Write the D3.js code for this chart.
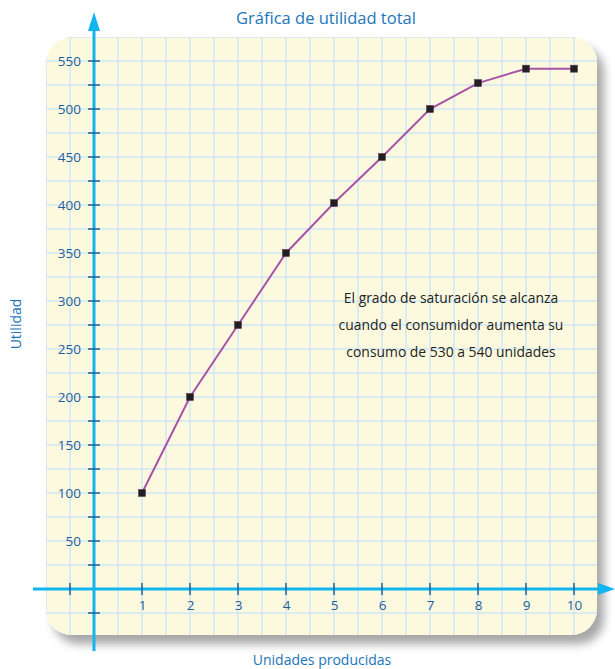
<!DOCTYPE html>
<html><head><meta charset="utf-8">
<script src="https://cdn.jsdelivr.net/npm/d3@7"></script>
<style>body{margin:0;background:#fff;}svg{display:block;font-family:"Open Sans",sans-serif;}</style>
</head><body>
<script>
const units = [1,2,3,4,5,6,7,8,9,10];
const utility = [100,200,275,350,402,450,500,527,542,542];
const yTickLabels = [50,100,150,200,250,300,350,400,450,500,550];
const yMinorTicks = [-25,25,75,125,175,225,275,325,375,425,475,525];
const xTickValues = [-0.5,1,2,3,4,5,6,7,8,9,10];
const title = "Gráfica de utilidad total";
const xTitle = "Unidades producidas";
const yTitle = "Utilidad";
const note = ["El grado de saturación se alcanza","cuando el consumidor aumenta su","consumo de 530 a 540 unidades"];

const W=615,H=669;
const svg=d3.select("body").append("svg").attr("width",W).attr("height",H);
const x=d3.scaleLinear().domain([0,10]).range([94,574]);
const y=d3.scaleLinear().domain([0,550]).range([589,61]);

const defs=svg.append("defs");
const f=defs.append("filter").attr("id","sh").attr("x","-10%").attr("y","-10%").attr("width","130%").attr("height","130%");
f.append("feDropShadow").attr("dx",7).attr("dy",9).attr("stdDeviation",5).attr("flood-color","#000").attr("flood-opacity",0.35);

const px0=46,px1=597,py0=37,py1=635;
svg.append("rect").attr("x",px0).attr("y",py0).attr("width",px1-px0).attr("height",py1-py0)
  .attr("rx",26).attr("fill","#fdf9de").attr("filter","url(#sh)");
const clip=defs.append("clipPath").attr("id","pc");
clip.append("rect").attr("x",px0).attr("y",py0).attr("width",px1-px0).attr("height",py1-py0).attr("rx",26);

const grid=svg.append("g").attr("clip-path","url(#pc)").attr("stroke","#cfe6f5").attr("stroke-width",1.5);
const gx=d3.range(-1,12.1,0.5);
grid.selectAll("line.v").data(gx).join("line").attr("x1",d=>x(d)).attr("x2",d=>x(d)).attr("y1",py0).attr("y2",py1);
const gy=d3.range(-50,601,25);
grid.selectAll("line.h").data(gy).join("line").attr("y1",d=>y(d)).attr("y2",d=>y(d)).attr("x1",px0).attr("x2",px1);

const axisCol="#12b5ee";
svg.append("line").attr("x1",33).attr("x2",600).attr("y1",y(0)).attr("y2",y(0)).attr("stroke",axisCol).attr("stroke-width",3);
svg.append("path").attr("d",`M615,${y(0)} L598,${y(0)-6} L598,${y(0)+6} Z`).attr("fill",axisCol);
svg.append("line").attr("x1",x(0)).attr("x2",x(0)).attr("y1",28).attr("y2",651).attr("stroke",axisCol).attr("stroke-width",3);
svg.append("path").attr("d",`M${x(0)},12 L${x(0)-6},31 L${x(0)+6},31 Z`).attr("fill",axisCol);

const tickCol="#1d5f99";
const yAx=d3.axisLeft(y).tickValues(yTickLabels).tickSize(0).tickPadding(0).tickFormat(d3.format("d"));
const ya=svg.append("g").attr("transform",`translate(${x(0)-13},0)`).call(yAx);
ya.select(".domain").remove();
ya.selectAll("text").attr("fill",tickCol).attr("font-size",13.5).attr("font-family","'Open Sans',sans-serif").attr("dy","0.35em");
svg.selectAll("line.yt").data(yTickLabels.concat(yMinorTicks)).join("line")
  .attr("x1",x(0)-6).attr("x2",x(0)+6).attr("y1",d=>y(d)).attr("y2",d=>y(d)).attr("stroke",tickCol).attr("stroke-width",1.5);
const xAx=d3.axisBottom(x).tickValues(xTickValues.filter(d=>d>0)).tickSize(0).tickPadding(0).tickFormat(d3.format("d"));
const xa=svg.append("g").attr("transform",`translate(0,${y(0)+11})`).call(xAx);
xa.select(".domain").remove();
xa.selectAll("text").attr("fill",tickCol).attr("font-size",13.5).attr("font-family","'Open Sans',sans-serif").attr("dy","0.71em");
svg.selectAll("line.xt").data(xTickValues).join("line")
  .attr("x1",d=>x(d)).attr("x2",d=>x(d)).attr("y1",y(0)-6).attr("y2",y(0)+6).attr("stroke",tickCol).attr("stroke-width",1.5);

const data=units.map((u,i)=>({u,v:utility[i]}));
svg.append("path").datum(data).attr("fill","none").attr("stroke","#a653a9").attr("stroke-width",2)
  .attr("d",d3.line().x(d=>x(d.u)).y(d=>y(d.v)));
svg.selectAll("rect.m").data(data).join("rect").attr("x",d=>x(d.u)-3.5).attr("y",d=>y(d.v)-3.5)
  .attr("width",7).attr("height",7).attr("fill","#231f20").attr("stroke","#5a3a5c").attr("stroke-width",0.6);

const blue="#1b75bb";
svg.append("text").attr("x",326).attr("y",24).attr("text-anchor","middle").attr("fill",blue).attr("font-size",16.5).text(title);
svg.append("text").attr("x",322).attr("y",665).attr("text-anchor","middle").attr("fill",blue).attr("font-size",14).text(xTitle);
svg.append("text").attr("transform","translate(21,324) rotate(-90)").attr("text-anchor","middle").attr("fill",blue).attr("font-size",14).text(yTitle);
svg.append("g").selectAll("text").data(note).join("text").attr("x",451).attr("y",(d,i)=>303+i*27)
  .attr("text-anchor","middle").attr("fill","#231f20").attr("font-size",13.9).text(d=>d);
</script>
</body></html>
